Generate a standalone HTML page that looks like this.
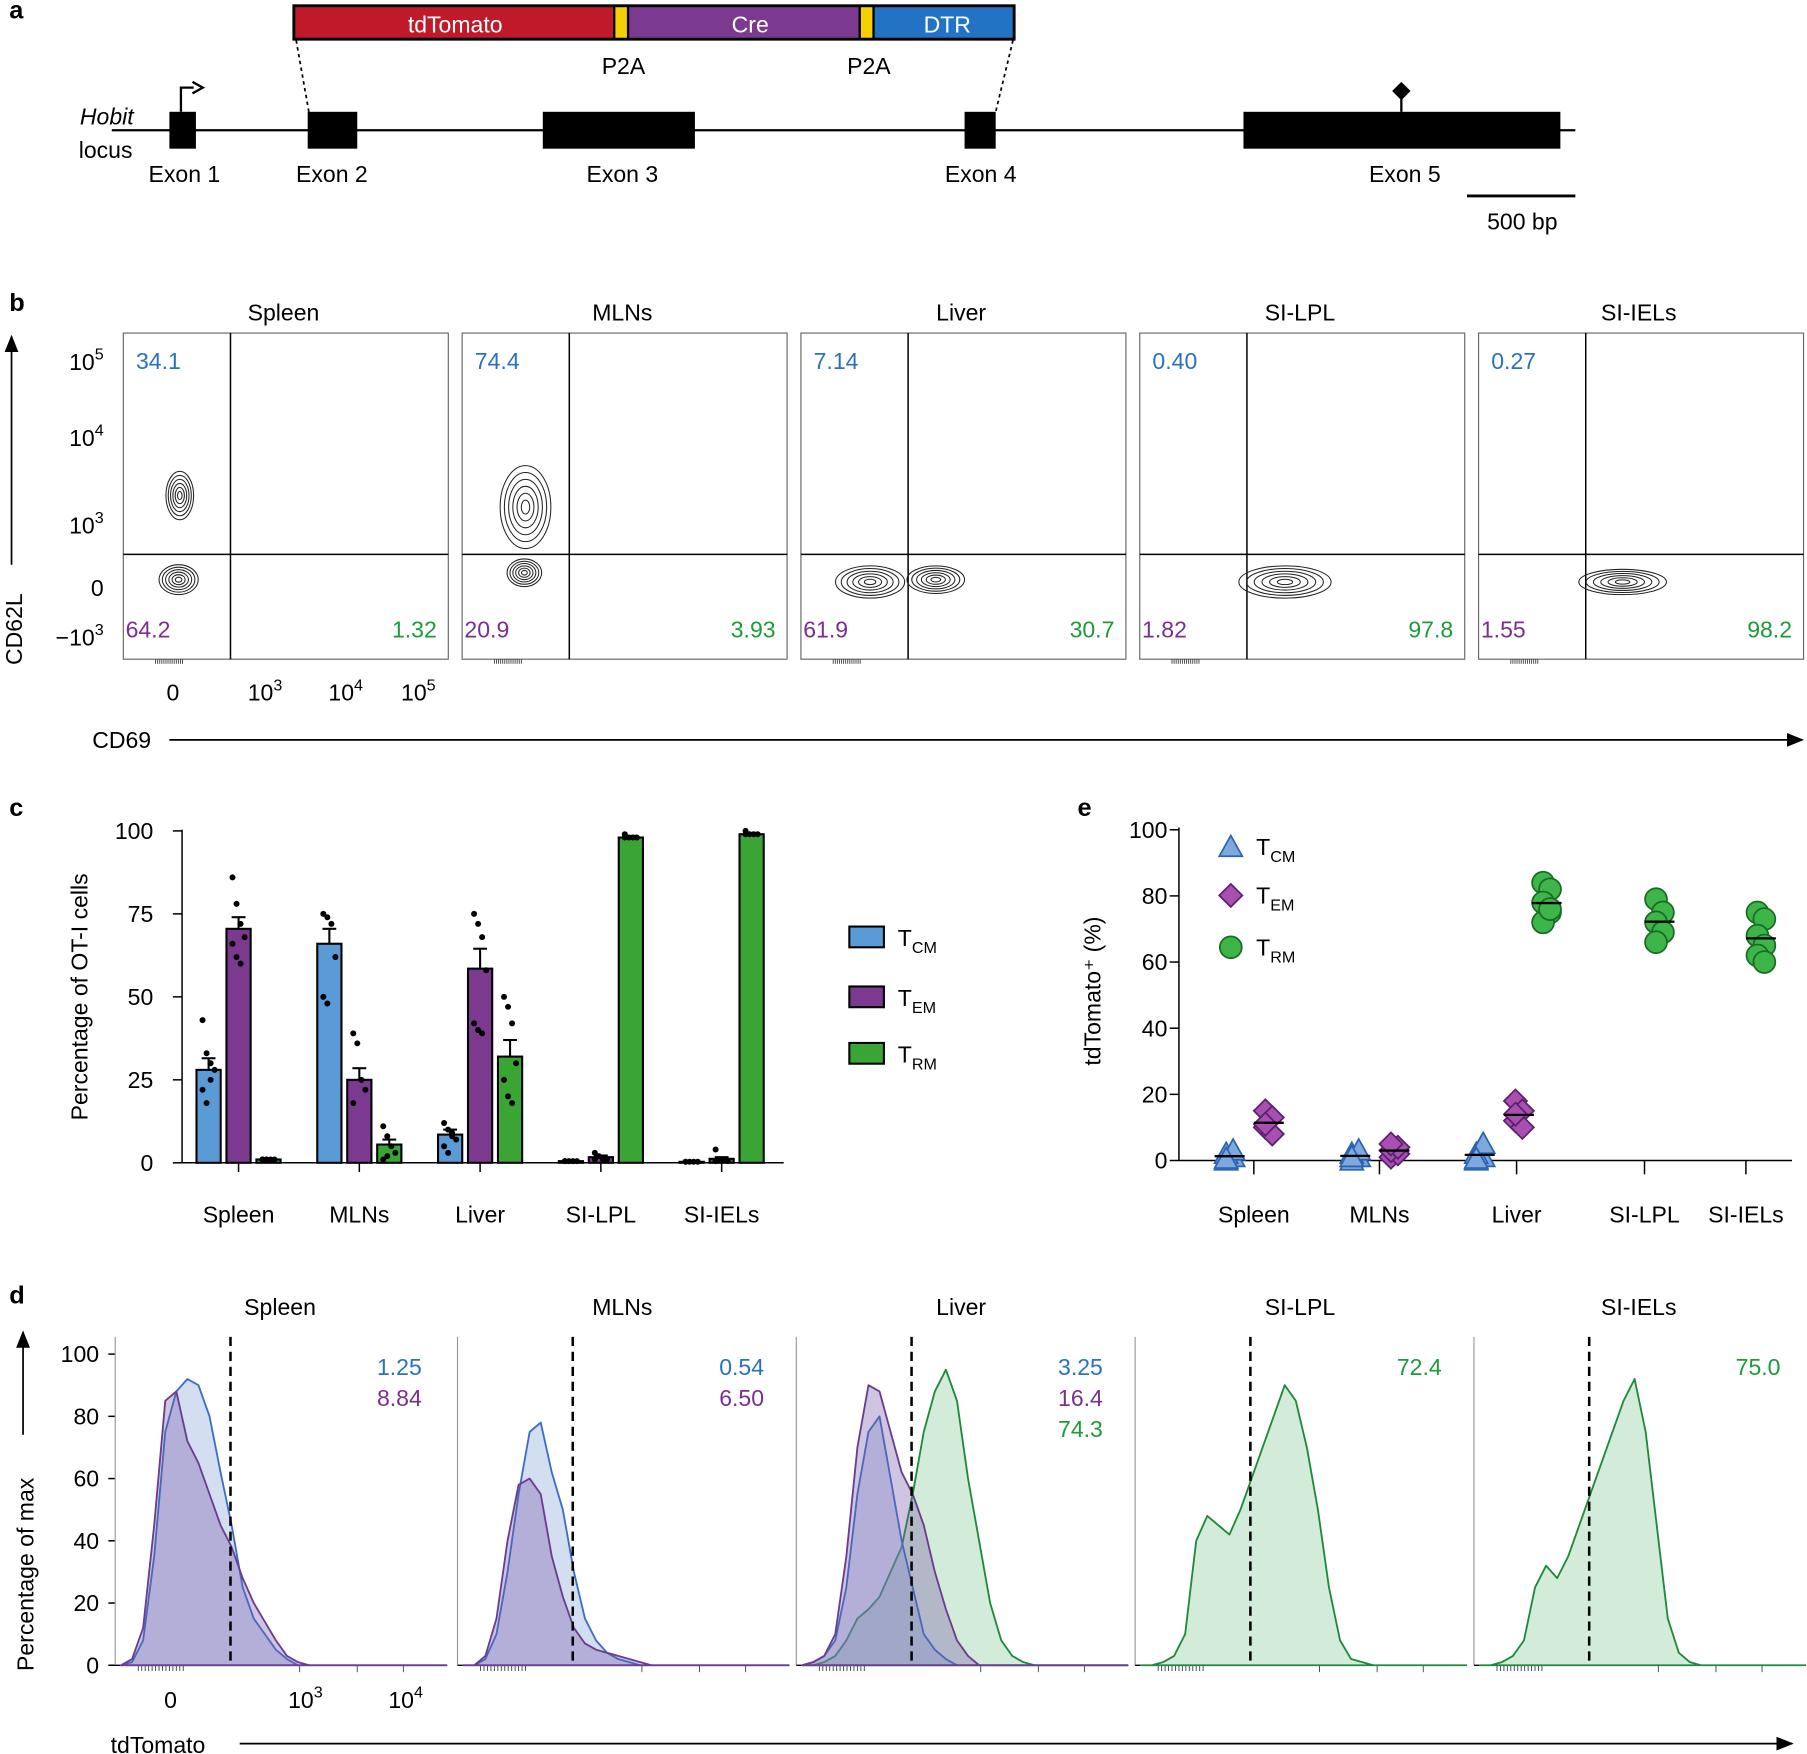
<!DOCTYPE html>
<html><head><meta charset="utf-8">
<style>
html,body{margin:0;padding:0;background:#fff;}
svg{display:block;font-family:"Liberation Sans",sans-serif;}
</style></head>
<body>
<svg id="fig" width="1807" height="1754" viewBox="0 0 1568 1522" xmlns="http://www.w3.org/2000/svg">
<defs>
<marker id="ah" markerWidth="10" markerHeight="8" refX="9" refY="4" orient="auto"><path d="M0,0 L10,4 L0,8 Z" fill="#000"/></marker>
</defs>
<!-- Panel a -->
<g font-size="20">
<text x="8" y="16" font-weight="bold" font-size="22">a</text>
<rect x="255" y="5" width="278" height="29" fill="#c0192a"/>
<rect x="533" y="5" width="12" height="29" fill="#f5d000"/>
<rect x="545" y="5" width="201" height="29" fill="#7b3a8f"/>
<rect x="746" y="5" width="12" height="29" fill="#f5d000"/>
<rect x="758" y="5" width="122" height="29" fill="#2273c3"/>
<rect x="255" y="5" width="625" height="29" fill="none" stroke="#000" stroke-width="2.5"/>
<line x1="533" y1="5" x2="533" y2="34" stroke="#000" stroke-width="2"/><line x1="545" y1="5" x2="545" y2="34" stroke="#000" stroke-width="2"/>
<line x1="746" y1="5" x2="746" y2="34" stroke="#000" stroke-width="2"/><line x1="758" y1="5" x2="758" y2="34" stroke="#000" stroke-width="2"/>
<text x="395" y="28" fill="#fff" text-anchor="middle">tdTomato</text>
<text x="651" y="28" fill="#fff" text-anchor="middle">Cre</text>
<text x="822" y="28" fill="#fff" text-anchor="middle">DTR</text>
<text x="541" y="64" text-anchor="middle">P2A</text>
<text x="754" y="64" text-anchor="middle">P2A</text>
<line x1="257" y1="35" x2="268" y2="97" stroke="#000" stroke-width="1.5" stroke-dasharray="3,3"/>
<line x1="879" y1="35" x2="864" y2="97" stroke="#000" stroke-width="1.5" stroke-dasharray="3,3"/>
<line x1="97" y1="113" x2="1367" y2="113" stroke="#000" stroke-width="2"/>
<rect x="147" y="97" width="23" height="32" fill="#000"/>
<rect x="267" y="97" width="43" height="32" fill="#000"/>
<rect x="471" y="97" width="132" height="32" fill="#000"/>
<rect x="837" y="97" width="27" height="32" fill="#000"/>
<rect x="1079" y="97" width="275" height="32" fill="#000"/>
<g>
<path d="M157,97 V76 H168" fill="none" stroke="#000" stroke-width="2"/>
<path d="M167,71 L176,76 L167,81" fill="none" stroke="#000" stroke-width="2"/>
</g>
<line x1="1216" y1="97" x2="1216" y2="84" stroke="#000" stroke-width="2"/>
<path d="M1216,71 L1224,79 L1216,87 L1208,79 Z" fill="#000"/>
<text x="116" y="108" text-anchor="end" font-style="italic">Hobit</text>
<text x="115" y="137" text-anchor="end">locus</text>
<text x="160" y="158" text-anchor="middle">Exon 1</text>
<text x="288" y="158" text-anchor="middle">Exon 2</text>
<text x="540" y="158" text-anchor="middle">Exon 3</text>
<text x="851" y="158" text-anchor="middle">Exon 4</text>
<text x="1219" y="158" text-anchor="middle">Exon 5</text>
<line x1="1273" y1="170" x2="1367" y2="170" stroke="#000" stroke-width="2.5"/>
<text x="1321" y="199" text-anchor="middle">500 bp</text>
</g>
<g id="pb" font-size="20"></g>
<g id="pc" font-size="20"></g>
<g id="pe" font-size="20"></g>
<g id="pd" font-size="20"></g>
</svg>
<script>
const NS="http://www.w3.org/2000/svg";
function el(p,tag,attrs,txt){const e=document.createElementNS(NS,tag);for(const k in attrs)e.setAttribute(k,attrs[k]);if(txt!==undefined)e.textContent=txt;p.appendChild(e);return e;}
const BLUE="#2a72c0",PURP="#7a2f8e",GREEN="#1f9a3a";

// ---------- Panel b data ----------
const bTissues=["Spleen","MLNs","Liver","SI-LPL","SI-IELs"];
const bTopLeft=["34.1","74.4","7.14","0.40","0.27"];
const bBotLeft=["64.2","20.9","61.9","1.82","1.55"];
const bBotRight=["1.32","3.93","30.7","97.8","98.2"];
const bYTicks=["10^5","10^4","10^3","0","−10^3"];
const bXTicks=["0","10^3","10^4","10^5"];
const bClusters=[[[49,430,12,21],[48,503,17,13]],[[55,440,22,36],[54,497,15,12]],[[60,505,30,14],[117,503,25,12]],[[126,505,40,14]],[[125,505,38,11]]];
const pb=document.getElementById('pb');
el(pb,'text',{x:8,y:270,'font-weight':'bold','font-size':22,},'b');
function supText(p,x,y,s,anchor){const t=el(p,'text',{x:x,y:y,'text-anchor':anchor||'middle'});
 const parts=s.split('^');t.appendChild(document.createTextNode(parts[0]));
 if(parts[1]){el(t,'tspan',{dy:-9,'font-size':14},parts[1]);}return t;}
const bX0=[107,401,695,989,1283],bW=282,bTop=289,bBot=572;
bTissues.forEach((n,i)=>{
 const g=el(pb,'g',{});
 
 
 const x0=bX0[i];
 el(g,'rect',{x:x0,y:bTop,width:bW,height:bBot-bTop,fill:'none',stroke:'#666','stroke-width':1});
 el(g,'line',{x1:x0+93,y1:bTop,x2:x0+93,y2:bBot,stroke:'#000','stroke-width':1.3});
 el(g,'line',{x1:x0,y1:481,x2:x0+bW,y2:481,stroke:'#000','stroke-width':1.3});
 el(g,'text',{x:x0+bW/2-2,y:278,'text-anchor':'middle'},n);
 el(g,'text',{x:x0+11,y:320,fill:BLUE},bTopLeft[i]);
 el(g,'text',{x:x0+2,y:553,fill:PURP},bBotLeft[i]);
 el(g,'text',{x:x0+bW-10,y:553,fill:GREEN,'text-anchor':'end'},bBotRight[i]);
 bClusters[i].forEach(c=>{for(let k=1;k<=6;k++){const f=k/6;
  el(g,'ellipse',{cx:x0+c[0],cy:c[1],rx:c[2]*f,ry:c[3]*f,fill:'none',stroke:'#222','stroke-width':0.9});}});
 for(let t=0;t<14;t++){el(g,'line',{x1:x0+28+t*1.8,y1:bBot,x2:x0+28+t*1.8,y2:bBot+4,stroke:'#444','stroke-width':0.8});}
});
const bYpos=[321,387,463,517,560];
bYTicks.forEach((s,i)=>{supText(pb,90,bYpos[i],s,'end');});
const bXpos=[150,230,300,363];
bXTicks.forEach((s,i)=>{supText(pb,bXpos[i],608,s,'middle');});
el(pb,'text',{x:0,y:0,transform:'translate(19,577) rotate(-90)','text-anchor':'start',},'CD62L');
el(pb,'line',{x1:10,y1:490,x2:10,y2:292,stroke:'#000','stroke-width':1.5,'marker-end':'url(#ah)'});
el(pb,'text',{x:80,y:649,},'CD69');
el(pb,'line',{x1:147,y1:642,x2:1564,y2:642,stroke:'#000','stroke-width':1.5,'marker-end':'url(#ah)'});

// ---------- Panel c data ----------
const cCats=["Spleen","MLNs","Liver","SI-LPL","SI-IELs"];
const cSeries=["CM","EM","RM"];
const cMeanTCM=[28,66,8.5,0.5,0.3];
const cMeanTEM=[70.5,25,58.5,1.7,1.2];
const cMeanTRM=[1,5.5,32,98,99];
const cSemTCM=[3.5,4.5,1.5,0.2,0.1];
const cSemTEM=[3.5,3.5,6,0.5,0.5];
const cSemTRM=[0.2,1.5,5,0.5,0.4];
const cDotsTCM=[[43,33,30,28,22,18,25],[75,74,72,62,50,48],[12,10,8,7,5,3,9],[0.5,0.5,0.5,0.5,0.5],[0.3,0.3,0.3,0.3,0.3]];
const cDotsTEM=[[86,78,72,68,66,62,60],[39,36,25,22,18],[75,72,68,58,42,40,39],[3,2,1,1,1],[4,1,1,0.5,0.5]];
const cDotsTRM=[[1,1,1,1,1,1],[11,8,5,3,1,2],[50,47,42,30,25,20,18],[99,98,98,98,98],[100,99,99,99,99]];
const cYTicks=[0,25,50,75,100];
const cColors=["#5b9bd5","#7b3a8f","#3aa535"];
const pc=document.getElementById('pc');
const cy=v=>1009-v*2.88;
const cx=i=>207+i*104.8;
const cOff=[-26,0,26];
el(pc,'text',{x:8,y:708,'font-weight':'bold','font-size':22,},'c');
el(pc,'line',{x1:158,y1:720,x2:158,y2:1009,stroke:'#000','stroke-width':1.3,});
el(pc,'line',{x1:158,y1:1009,x2:680,y2:1009,stroke:'#000','stroke-width':1.3,});
cYTicks.forEach(v=>{el(pc,'line',{x1:150,y1:cy(v),x2:158,y2:cy(v),stroke:'#000','stroke-width':1.3});
 el(pc,'text',{x:133,y:cy(v)+7,'text-anchor':'end'},String(v));});
const cMeans=[cMeanTCM,cMeanTEM,cMeanTRM],cSems=[cSemTCM,cSemTEM,cSemTRM],cDots=[cDotsTCM,cDotsTEM,cDotsTRM];
cCats.forEach((c,i)=>{
 el(pc,'line',{x1:cx(i),y1:1009,x2:cx(i),y2:1017,stroke:'#000','stroke-width':1.3});
 el(pc,'text',{x:cx(i),y:1061,'text-anchor':'middle'},c);
 for(let s=0;s<3;s++){
  const m=cMeans[s][i],x=cx(i)+cOff[s];
  const r=el(pc,'rect',{x:x-10.5,y:cy(m),width:21,height:cy(0)-cy(m),fill:cColors[s],stroke:'#000','stroke-width':1.8});
  
  
  const e=cSems[s][i];
  el(pc,'line',{x1:x,y1:cy(m+e),x2:x,y2:cy(m),stroke:'#000','stroke-width':1.8});
  el(pc,'line',{x1:x-6,y1:cy(m+e),x2:x+6,y2:cy(m+e),stroke:'#000','stroke-width':1.8});
  const d=cDots[s][i];
  d.forEach((v,k)=>{el(pc,'circle',{cx:x+((k%4)-1.5)*3.5,cy:cy(v),r:2.6,fill:'#000'});});
 }
});
el(pc,'text',{x:0,y:0,transform:'translate(76,865) rotate(-90)','text-anchor':'middle',},'Percentage of OT-I cells');
const cLegY=[813,865,914];
cSeries.forEach((s,k)=>{
 const g=el(pc,'g',{});
 
 
 el(g,'rect',{x:737,y:cLegY[k]-9,width:30,height:18,fill:cColors[k],stroke:'#000','stroke-width':1.8});
 const t=el(g,'text',{x:779,y:cLegY[k]+8},'T');el(t,'tspan',{dy:6,'font-size':14},s);
});

// ---------- Panel e data ----------
const eCats=["Spleen","MLNs","Liver","SI-LPL","SI-IELs"];
const eTCM=[[0,1,2,3,0.5],[0,1,2,3,1],[0,1,2,5,0.5],[],[]];
const eTEM=[[15,13,10,8,11],[1,2,3,4,5],[18,15,12,10,14],[],[]];
const eTRM=[[],[],[84,82,78,75,72,76],[79,75,72,69,66],[75,73,68,65,62,60]];
const eYTicks=[0,20,40,60,80,100];
const pe=document.getElementById('pe');
const ey=v=>1007-v*2.87;
const eCatX=[1088,1197,1316,1427,1515];
el(pe,'text',{x:935,y:708,'font-weight':'bold','font-size':22,},'e');
el(pe,'line',{x1:1023,y1:718,x2:1023,y2:1007,stroke:'#000','stroke-width':1.3,});
el(pe,'line',{x1:1023,y1:1007,x2:1555,y2:1007,stroke:'#000','stroke-width':1.3,});
eYTicks.forEach(v=>{el(pe,'line',{x1:1015,y1:ey(v),x2:1023,y2:ey(v),stroke:'#000','stroke-width':1.3});
 el(pe,'text',{x:1013,y:ey(v)+7,'text-anchor':'end'},String(v));});
eCats.forEach((c,i)=>{el(pe,'line',{x1:eCatX[i],y1:1007,x2:eCatX[i],y2:1019,stroke:'#000','stroke-width':1.3});
 el(pe,'text',{x:eCatX[i],y:1061,'text-anchor':'middle'},c);});
function tri(p,x,y){return el(p,'path',{d:`M${x},${y-10} L${x+10},${y+8} L${x-10},${y+8} Z`,fill:'#7fa9dc',stroke:'#2a63b0','stroke-width':1.5});}
function dia(p,x,y){return el(p,'path',{d:`M${x},${y-10} L${x+10},${y} L${x},${y+10} L${x-10},${y} Z`,fill:'#a84fb0',stroke:'#5a1f6e','stroke-width':1.5});}
function circ(p,x,y){return el(p,'circle',{cx:x,cy:y,r:9.5,fill:'#3db548',stroke:'#176b22','stroke-width':1.5});}
const eSets=[[eTCM,tri,-21],[eTEM,dia,13],[eTRM,circ,37]];
eCats.forEach((c,i)=>{
 eSets.forEach(([arr,fn,off],s)=>{
  const vals=arr[i];if(!vals.length)return;
  const only=eTCM[i].length===0;
  const x=eCatX[i]+(only?13:(off-(i===2?11:0)));
  vals.forEach((v,k)=>{const m=fn(pe,x+((k%2)?3:-3),ey(v));
   
   });
  const mean=vals.reduce((a,b)=>a+b,0)/vals.length;
  el(pe,'line',{x1:x-13,y1:ey(mean),x2:x+13,y2:ey(mean),stroke:'#000','stroke-width':2});
 });
});
el(pe,'text',{x:0,y:0,transform:'translate(955,860) rotate(-90)','text-anchor':'middle',},'tdTomato⁺ (%)');
const eLeg=[["CM",tri,735],["EM",dia,777],["RM",circ,822]];
eLeg.forEach(([s,fn,y])=>{const g=el(pe,'g',{});
 
 
 fn(g,1068,y);const t=el(g,'text',{x:1090,y:y+7},'T');el(t,'tspan',{dy:6,'font-size':14},s);});

// ---------- Panel d data ----------
const dTissues=["Spleen","MLNs","Liver","SI-LPL","SI-IELs"];
const dBlue=[[0,1,8,35,75,88,92,90,80,62,45,25,15,10,5,2,0],[0,0,2,10,30,55,75,78,62,50,30,15,8,4,2,1,0],[0,1,3,8,25,55,75,80,60,40,25,10,5,2,0],[],[]];
const dPurple=[[0,2,12,45,85,88,72,65,55,45,38,28,20,14,8,3,1,0],[0,0,3,15,40,58,60,55,35,22,12,7,5,4,3,2,1,0],[0,1,3,10,35,70,90,88,75,62,55,45,30,18,8,3,0],[],[]];
const dGreen=[[],[],[0,0,1,3,8,15,18,22,30,38,55,75,88,95,85,60,40,20,8,3,1,0],[0,0,1,3,10,40,48,45,42,50,60,70,80,90,85,70,50,25,8,2,1,0],[0,0,1,3,8,25,32,28,35,45,55,65,75,85,92,75,45,15,4,1,0]];
const dLabelsBlue=["1.25","0.54","3.25","",""];
const dLabelsPurple=["8.84","6.50","16.4","",""];
const dLabelsGreen=["","","74.3","72.4","75.0"];
const dYTicks=[0,20,40,60,80,100];
const pd=document.getElementById('pd');
const dX0=[100,397,691,985,1279],dW=288;
const dy=v=>1445-v*2.7;
const bin=9.6;
el(pd,'text',{x:8,y:1131,'font-weight':'bold','font-size':22,},'d');
dYTicks.forEach(v=>{el(pd,'line',{x1:94,y1:dy(v),x2:100,y2:dy(v),stroke:'#000','stroke-width':1.3});
 el(pd,'text',{x:86,y:dy(v)+7,'text-anchor':'end'},String(v));});
function histPath(x0,vals){let d=`M${x0},${dy(0)}`;vals.forEach((v,k)=>{d+=` L${x0+k*bin},${dy(v)}`;});d+=` L${x0+(vals.length-1)*bin},${dy(0)} Z`;return d;}
const dStyles=[[dGreen,'rgba(120,195,140,0.33)','#1f8a3b'],[dBlue,'rgba(130,160,215,0.35)','#3a6fc4'],[dPurple,'rgba(120,90,170,0.35)','#6a3d8f']];
dTissues.forEach((n,i)=>{
 const g=el(pd,'g',{});
 
 
 const x0=dX0[i];
 el(g,'line',{x1:x0,y1:1160,x2:x0,y2:1445,stroke:'#999','stroke-width':1});
 el(g,'line',{x1:x0,y1:1445,x2:x0+dW,y2:1445,stroke:'#000','stroke-width':1.2});
 for(let t=0;t<14;t++){el(g,'line',{x1:x0+20+t*3,y1:1445,x2:x0+20+t*3,y2:1450,stroke:'#444','stroke-width':0.8});}
 [160,210,250].forEach(o=>el(g,'line',{x1:x0+o,y1:1445,x2:x0+o,y2:1451,stroke:'#444','stroke-width':0.8}));
 dStyles.forEach(([arr,fill,stroke])=>{const v=arr[i];if(!v.length)return;
  el(g,'path',{d:histPath(x0+5,v),fill:fill,stroke:stroke,'stroke-width':1.6,'stroke-linejoin':'round'});
  el(g,'line',{x1:x0+5+(v.length-1)*bin,y1:1445,x2:x0+dW,y2:1445,stroke:stroke,'stroke-width':1.6});});
 el(g,'line',{x1:x0+100,y1:1160,x2:x0+100,y2:1445,stroke:'#000','stroke-width':2.2,'stroke-dasharray':'8,5'});
 el(g,'text',{x:x0+dW/2-1,y:1141,'text-anchor':'middle'},n);
 const labs=[[dLabelsBlue[i],BLUE],[dLabelsPurple[i],PURP],[dLabelsGreen[i],GREEN]].filter(a=>a[0]);
 labs.forEach((a,k)=>el(g,'text',{x:x0+266,y:1193+k*27,'text-anchor':'end',fill:a[1]},a[0]));
});
[["0",148],["10^3",265],["10^4",352]].forEach(a=>supText(pd,a[1],1482,a[0],'middle'));
el(pd,'text',{x:0,y:0,transform:'translate(29,1450) rotate(-90)','text-anchor':'start',},'Percentage of max');
el(pd,'line',{x1:20,y1:1245,x2:20,y2:1156,stroke:'#000','stroke-width':1.5,'marker-end':'url(#ah)'});
el(pd,'text',{x:96,y:1521,},'tdTomato');
el(pd,'line',{x1:208,y1:1513,x2:1555,y2:1513,stroke:'#000','stroke-width':1.5,'marker-end':'url(#ah)'});
</script>
</body></html>
